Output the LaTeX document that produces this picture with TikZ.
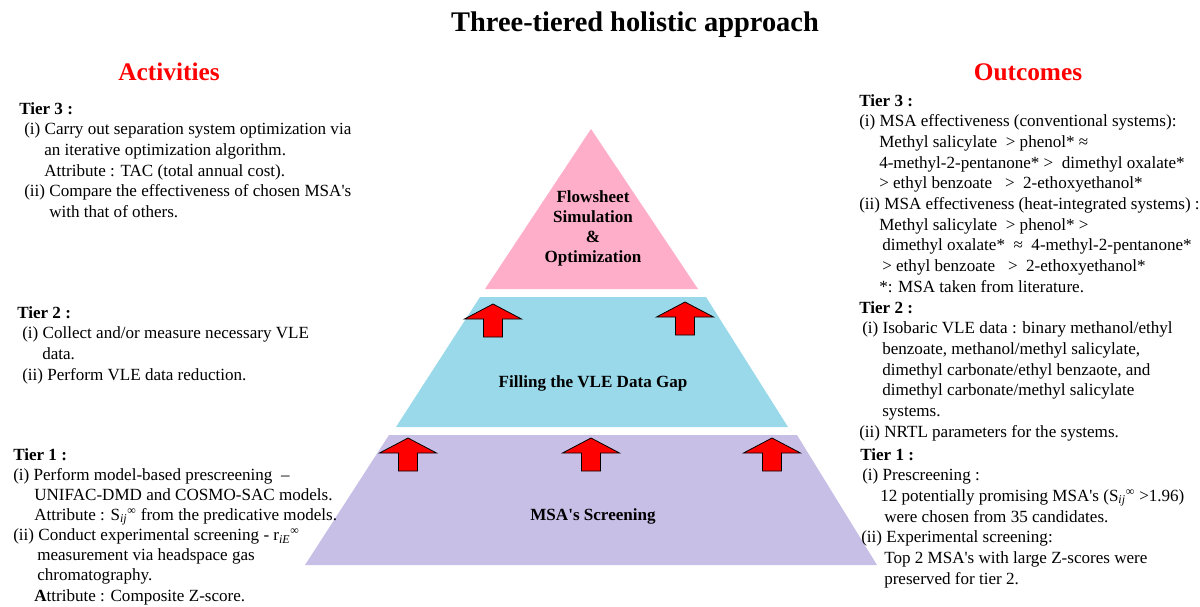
\documentclass[tikz,border=0pt]{standalone}
\usepackage{fontspec}
\setmainfont{Liberation Serif}
\usetikzlibrary{positioning}
\definecolor{rose}{HTML}{FFAEC9}
\definecolor{turq}{HTML}{99D9EA}
\definecolor{lavend}{HTML}{C8BFE7}
\newcommand{\indby}[1]{\hspace*{#1pt}}
\newcommand{\apos}{\textquotesingle}
\newcommand{\sinf}[2]{#1\textsubscript{\itshape #2}\textsuperscript{∞}}

\begin{document}
\begin{tikzpicture}[x=0.75pt, y=-0.75pt,
    every node/.style={font=\fontsize{12.8}{15.5}\selectfont, inner sep=0pt},
    tiertext/.style={anchor=north west, align=left},
    layertext/.style={font=\fontsize{12.8}{15}\selectfont\bfseries, align=center},
    heading/.style={font=\fontsize{19}{22}\selectfont\bfseries, text=red},
    uparrow/.pic={
        \draw[fill=red, line width=0.6pt] (0,0) -- (28.5,15) -- (9.5,15) -- (9.5,33)
            -- (-9.5,33) -- (-9.5,15) -- (-28.5,15) -- cycle;
    }]
    \useasboundingbox (0,0) rectangle (1200,607);
    % title and headings
    \node[font=\fontsize{21.3}{24}\selectfont\bfseries] (title) at (635,25) {Three-tiered holistic approach};
    \node[heading] (act) at (169,72) {Activities};
    \node[heading] (out) at (1028,72) {Outcomes};

    % the pyramid
    \fill[rose] (591,129) -- (698,289) -- (485,289) -- cycle;
    \fill[turq] (480,297) -- (706,297) -- (788,427) -- (396,427) -- cycle;
    \fill[lavend] (389,435) -- (797,435) -- (877,565) -- (305,565) -- cycle;
    \node[layertext] (flow) at (593,228) {Flowsheet\\Simulation\\\&\\Optimization};
    \node[layertext] (gap) at (593,383) {Filling the VLE Data Gap};
    \node[layertext] (screen) at (593,516) {MSA\apos s Screening};

    % red arrows
    \foreach \ax/\ay in {493/304, 685/302, 408/438, 591/438, 772/438}
        \pic at (\ax,\ay) {uparrow};

    % activities
    \node[tiertext] (act3) at (19,102) {\textbf{Tier 3 :}\\
        \indby{3.75}(i) Carry out separation system optimization via\\
        \indby{18.75}an iterative optimization algorithm.\\
        \indby{18.75}Attribute : TAC (total annual cost).\\
        \indby{3.75}(ii) Compare the effectiveness of chosen MSA\apos s\\
        \indby{22.5}with that of others.};
    \node[tiertext] (act2) at (17,306) {\textbf{Tier 2 :}\\
        \indby{3.75}(i) Collect and/or measure necessary VLE\\
        \indby{18.75}data.\\
        \indby{3.75}(ii) Perform VLE data reduction.};
    \node[tiertext, font=\fontsize{12.8}{15.1}\selectfont] (act1) at (13,448) {\textbf{Tier 1 :}\\
        (i) Perform model-based prescreening \ –\\
        \indby{15.75}UNIFAC-DMD and COSMO-SAC models.\\
        \indby{15.75}Attribute : \sinf{S}{ij} from the predicative models.\\
        (ii) Conduct experimental screening - \sinf{r}{iE}\\
        \indby{18}measurement via headspace gas\\
        \indby{18}chromatography.\\
        \indby{15.75}\textbf{A}ttribute : Composite Z-score.};

    % outcomes
    \node[tiertext] (out3) at (859,94) {\textbf{Tier 3 :}\\
        (i) MSA effectiveness (conventional systems):\\
        \indby{15}Methyl salicylate \ > phenol* ≈\\
        \indby{15}4-methyl-2-pentanone* > \ dimethyl oxalate*\\
        \indby{15}> ethyl benzoate \ \ > \ 2-ethoxyethanol*\\
        (ii) MSA effectiveness (heat-integrated systems) :\\
        \indby{15}Methyl salicylate \ > phenol* >\\
        \indby{17.25}dimethyl oxalate* \ ≈ \ 4-methyl-2-pentanone*\\
        \indby{17.25}> ethyl benzoate \ \ > \ 2-ethoxyethanol*\\
        \indby{15}*: MSA taken from literature.};
    \node[tiertext] (out2) at (859,301) {\textbf{Tier 2 :}\\
        \indby{2.25}(i) Isobaric VLE data : binary methanol/ethyl\\
        \indby{17.25}benzoate, methanol/methyl salicylate,\\
        \indby{17.25}dimethyl carbonate/ethyl benzaote, and\\
        \indby{17.25}dimethyl carbonate/methyl salicylate\\
        \indby{17.25}systems.\\
        (ii) NRTL parameters for the systems.};
    \node[tiertext] (out1) at (860,448) {\textbf{Tier 1 :}\\
        \indby{1.5}(i) Prescreening :\\
        \indby{15}12 potentially promising MSA\apos s (\sinf{S}{ij} >1.96)\\
        \indby{18}were chosen from 35 candidates.\\
        \indby{0.75}(ii) Experimental screening:\\
        \indby{18}Top 2 MSA\apos s with large Z-scores were\\
        \indby{18}preserved for tier 2.};
\end{tikzpicture}
\end{document}
